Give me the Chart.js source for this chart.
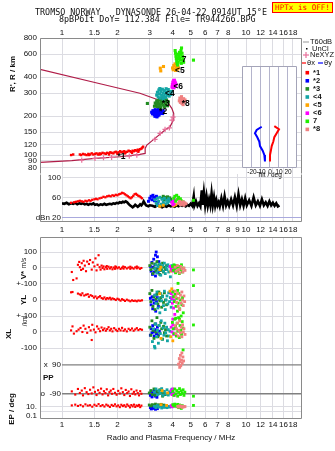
<!DOCTYPE html>
<html>
<head>
<meta charset="utf-8">
<script src="https://cdn.jsdelivr.net/npm/chart.js@4.4.0/dist/chart.umd.min.js"></script>
<style>
  html, body { margin: 0; padding: 0; background: #fff; }
  body { width: 335px; height: 451px; position: relative; overflow: hidden; }
  canvas { position: absolute; }
  #hptx { position: absolute; left: 272px; top: 2px; width: 59px; height: 9px; background: #ffff00;
          border: 1px solid #ff0000; color: #ff0000; font: 7.6px "DejaVu Sans Mono", monospace;
          line-height: 9px; text-align: center; white-space: nowrap; overflow: visible; }
</style>
</head>
<body>
<div id="hptx">HPTx is OFF!</div>
<canvas id="hgt" width="335" height="175" style="left:0;top:0"></canvas>
<canvas id="db" width="335" height="66" style="left:0;top:170px"></canvas>
<canvas id="tilt" width="80" height="126" style="left:230px;top:56px"></canvas>
<canvas id="low" width="335" height="215" style="left:0;top:236px"></canvas>
<script>
// ---- axes ----
const F_MIN = 0.759, F_MAX = 20.15;
const freqLabels = [1, 1.5, 2, 3, 4, 5, 6, 7, 8, 10, 12, 14, 16, 18];
const freqLabelsDb = [1, 1.5, 2, 3, 4, 5, 6, 7, 8, 9, 10, 12, 14, 16, 18];
const heightTicks = [80, 90, 100, 120, 150, 200, 300, 400, 600, 800];
const dbTicks = [100, 80, 60, 40, 20];
const dbTickLabels = ['100', 'dBe 80', '60', '40', 'dBn 20'];
const tiltTicks = [-20, -10, 0, 10, 20];
const lowTickLabels = ['100', '0', '+-100', '0', '+-100', '0', '-100', '10.', '', '0.1'];

// ---- echo classes ----
const clusterIds = ['1', '2', '3', '4', '5', '6', '7', '8'];
const clusterNames = ['*1', '*2', '*3', '<4', '<5', '<6', '7', '*8'];
const clusterColors = ['#ff0000', '#0000ff', '#228b22', '#14a5a5', '#ffa500', '#ff00ff', '#22ee00', '#f08080'];

// ---- profile (MHz, km) ----
const profile = [[0.759, 87.8], [1.13, 90.4], [1.51, 94.3], [2.07, 97], [2.65, 101.3], [2.83, 103], [2.83, 112.6],
  [2.89, 119.5], [3.20, 134.5], [3.63, 155.9], [3.86, 165.4], [4.03, 186], [4.06, 203], [4.03, 210], [3.95, 229],
  [3.77, 252], [3.35, 266], [2.65, 300], [1.61, 355], [0.759, 458]];
const neXYZ = [[1.28, 91.5], [1.51, 94.3], [1.68, 95.3], [1.86, 96], [2.32, 98.2], [2.55, 100], [3.20, 132],
  [3.41, 147], [3.63, 158], [3.83, 162], [3.96, 186], [4.01, 196]];
const clusterTags = [['*1', 2.00, 97], ['*2', 3.37, 216], ['*3', 3.48, 250], ['<4', 3.63, 300], ['<5', 4.11, 447],
  ['<6', 4.03, 337], ['7', 4.47, 541], ['*8', 4.47, 247]];

// tilt (deg, km)
const tiltX = [[4.8, 167], [10, 158], [7.4, 147], [4.8, 137], [3.7, 127], [1.9, 117], [1.1, 109], [0, 100], [0, 89]];
const tiltY = [[-9.2, 165], [-14.8, 156], [-16.7, 147], [-14.1, 137], [-11.9, 127], [-11.1, 117], [-8.1, 108], [-6.3, 100], [-5.6, 89]];

// virtual height R' (km)
const hgtEcho = {
  '1': [[1.12, 100], [1.15, 101], [1.25, 101], [1.27, 100], [1.30, 102], [1.33, 101], [1.36, 100], [1.39, 102], [1.42, 101],
    [1.45, 103], [1.48, 101], [1.51, 102], [1.54, 103], [1.57, 101], [1.60, 103], [1.63, 102], [1.66, 104], [1.70, 103],
    [1.73, 102], [1.76, 104], [1.80, 103], [1.83, 105], [1.86, 104], [1.90, 103], [1.93, 105], [1.96, 106], [2.00, 104],
    [2.03, 105], [2.07, 107], [2.10, 105], [2.14, 106], [2.18, 107], [2.22, 105], [2.26, 106], [2.30, 108], [2.34, 107],
    [2.38, 106], [2.42, 108], [2.46, 107], [2.50, 109], [2.54, 108], [2.58, 110], [2.62, 109], [2.66, 111], [2.70, 112],
    [2.73, 114], [2.76, 116], [1.40, 100], [1.60, 101], [1.80, 101], [2.00, 102], [2.20, 103], [2.40, 104], [2.60, 106]],
  '2': [[3.07, 214], [3.10, 208], [3.12, 220], [3.15, 212], [3.17, 205], [3.19, 217], [3.21, 224], [3.23, 210], [3.25, 202],
    [3.27, 215], [3.29, 221], [3.31, 207], [3.33, 213], [3.35, 226], [3.37, 204], [3.39, 218], [3.41, 210], [3.44, 222],
    [3.46, 212], [3.49, 216], [3.52, 209], [3.55, 219], [3.20, 199], [3.28, 197], [3.36, 229], [3.43, 227], [3.14, 216],
    [3.24, 219], [3.32, 201]],
  '3': [[2.91, 250], [3.18, 238], [3.21, 252], [3.24, 244], [3.27, 262], [3.30, 236], [3.33, 255], [3.36, 247], [3.39, 268],
    [3.42, 240], [3.45, 258], [3.48, 250], [3.51, 272], [3.54, 243], [3.57, 261], [3.60, 235], [3.63, 254], [3.66, 246],
    [3.70, 266], [3.74, 240], [3.78, 257], [3.30, 249], [3.44, 232], [3.58, 270], [3.68, 258]],
  '4': [[3.27, 290], [3.30, 305], [3.33, 280], [3.36, 318], [3.39, 296], [3.42, 275], [3.45, 310], [3.48, 288], [3.51, 322],
    [3.54, 300], [3.57, 283], [3.60, 314], [3.63, 295], [3.66, 278], [3.70, 306], [3.74, 290], [3.78, 320], [3.82, 285],
    [3.86, 302], [3.90, 293], [3.94, 310], [3.40, 326], [3.55, 271], [3.68, 325]],
  '5': [[3.99, 470], [4.02, 455], [4.05, 490], [4.08, 462], [4.11, 505], [4.14, 450], [4.17, 478], [4.20, 495], [4.23, 460],
    [4.26, 485], [4.29, 470], [3.42, 468], [3.44, 446], [3.56, 482]],
  '6': [[3.96, 335], [3.98, 350], [4.00, 365], [4.02, 342], [4.04, 375], [4.06, 330], [4.08, 355], [4.10, 368], [4.12, 340],
    [4.14, 360], [4.16, 348], [4.00, 332], [4.08, 378]],
  '7': [[4.12, 640], [4.14, 610], [4.16, 580], [4.18, 555], [4.20, 530], [4.22, 510], [4.25, 495], [4.28, 520], [4.30, 550],
    [4.33, 580], [4.36, 560], [4.40, 600], [4.43, 640], [4.46, 670], [4.49, 610], [4.52, 575], [4.55, 545], [4.58, 520],
    [4.25, 560], [4.30, 600], [4.35, 620], [4.22, 590], [4.40, 540], [4.45, 510], [5.18, 540]],
  '8': [[4.34, 262], [4.37, 275], [4.40, 255], [4.43, 268], [4.46, 282], [4.49, 250], [4.52, 264], [4.55, 245], [4.58, 272],
    [4.62, 258], [4.66, 266]]
};

// amplitude (dB)
const dbNoise = [[1.00, 48], [1.03, 47], [1.06, 49], [1.09, 46], [1.12, 48], [1.15, 47], [1.18, 49], [1.21, 46], [1.24, 48],
  [1.27, 47], [1.30, 48], [1.33, 46], [1.36, 47], [1.39, 45], [1.42, 47], [1.45, 46], [1.48, 48], [1.51, 45], [1.55, 46],
  [1.58, 44], [1.62, 46], [1.66, 45], [1.70, 47], [1.74, 45], [1.78, 46], [1.82, 47], [1.86, 46], [1.90, 48], [1.94, 47],
  [1.98, 49], [2.02, 48], [2.06, 50], [2.10, 49], [2.14, 51], [2.18, 50], [2.22, 52], [2.26, 50], [2.30, 47], [2.34, 44],
  [2.38, 42], [2.42, 40], [2.46, 42], [2.50, 45], [2.54, 43], [2.58, 41], [2.62, 43], [2.66, 46], [2.70, 44], [2.74, 47],
  [2.78, 52], [2.82, 48], [2.86, 44], [2.90, 43], [2.95, 42], [3.00, 44], [3.10, 43], [3.20, 41], [3.30, 44], [3.40, 42],
  [3.50, 40], [3.60, 43], [3.70, 41], [3.80, 44], [3.90, 42], [4.00, 43], [4.10, 41], [4.20, 44], [4.30, 42], [4.40, 45],
  [4.50, 43], [4.60, 44], [4.70, 42], [4.80, 45], [4.90, 43], [5.00, 47], [5.10, 43], [5.20, 62], [5.25, 44], [5.35, 52],
  [5.45, 43], [5.55, 48], [5.65, 42], [5.75, 74], [5.80, 45], [5.90, 70], [6.00, 44], [6.10, 62], [6.20, 43], [6.30, 56],
  [6.40, 44], [6.50, 68], [6.60, 45], [6.70, 60], [6.80, 43], [6.90, 54], [7.00, 44], [7.10, 50], [7.20, 42], [7.35, 58],
  [7.50, 43], [7.65, 62], [7.80, 44], [7.95, 52], [8.10, 43], [8.30, 56], [8.50, 44], [8.70, 60], [8.90, 43], [9.10, 66],
  [9.30, 44], [9.50, 56], [9.70, 43], [9.90, 58], [10.1, 44], [10.4, 54], [10.7, 43], [11.0, 60], [11.3, 44], [11.6, 52],
  [11.9, 43], [12.2, 56], [12.5, 44], [12.8, 50], [13.1, 43], [13.4, 52], [13.7, 44], [14.0, 49], [14.3, 43], [14.6, 48],
  [14.9, 42], [15.2, 44]];
const dbEcho = {
  '1': [[1.12, 49], [1.16, 50], [1.19, 51], [1.22, 52], [1.25, 53], [1.28, 52], [1.31, 51], [1.34, 53], [1.37, 52], [1.40, 54],
    [1.43, 53], [1.46, 55], [1.50, 56], [1.53, 57], [1.56, 56], [1.60, 58], [1.64, 59], [1.68, 61], [1.72, 60], [1.76, 62],
    [1.80, 63], [1.84, 62], [1.88, 64], [1.92, 63], [1.96, 65], [2.00, 64], [2.04, 66], [2.08, 67], [2.12, 69], [2.16, 68],
    [2.20, 66], [2.24, 64], [2.28, 62], [2.32, 60], [2.36, 58], [2.40, 60], [2.44, 63], [2.48, 66], [2.52, 67], [2.56, 65],
    [2.60, 63], [2.64, 62], [2.68, 60], [2.72, 58]],
  '2': [[2.95, 52], [3.00, 58], [3.05, 62], [3.08, 55], [3.12, 64], [3.15, 60], [3.18, 53], [3.22, 57], [3.26, 62], [3.30, 50]],
  '3': [[3.50, 58], [3.55, 62], [3.60, 55], [3.65, 60], [3.70, 57], [3.75, 61], [3.80, 54], [3.85, 59], [3.90, 56], [3.95, 52]],
  '4': [[3.20, 55], [3.25, 48], [3.30, 58], [3.35, 52], [3.40, 60], [3.45, 46], [3.50, 56], [3.55, 50], [3.60, 58], [3.65, 47],
    [3.70, 54], [3.75, 49], [3.80, 57], [3.85, 52], [3.30, 44], [3.50, 45]],
  '5': [[3.40, 42], [3.55, 44], [4.05, 43], [4.15, 45]],
  '6': [[3.95, 50], [4.00, 45], [4.03, 52], [4.06, 47], [4.10, 55]],
  '7': [[4.05, 58], [4.10, 62], [4.15, 52], [4.20, 64], [4.25, 56], [4.30, 60], [4.35, 50], [4.40, 57], [4.45, 53], [4.50, 48],
    [4.55, 51], [5.18, 54]],
  '8': [[4.30, 48], [4.35, 52], [4.40, 45], [4.45, 50], [4.50, 46], [4.55, 51], [4.60, 44], [4.65, 49], [4.72, 47]]
};

// V* (m/s)
const vEcho = {
  '1': [[1.13, -25], [1.15, -75], [1.20, -65], [1.22, 20], [1.24, 38], [1.25, 5], [1.27, -12], [1.28, 30], [1.30, -5], [1.31, 45],
    [1.33, 15], [1.35, -20], [1.37, 40], [1.40, 25], [1.42, 50], [1.45, -10], [1.47, 35], [1.50, 10], [1.52, 60], [1.54, -15],
    [1.56, 20], [1.58, 80], [1.60, 5], [1.62, -10], [1.64, 15], [1.66, 0], [1.68, 10], [1.70, -8], [1.73, 5], [1.76, -5],
    [1.79, 8], [1.82, -3], [1.85, 5], [1.88, -8], [1.91, 3], [1.94, -5], [1.97, 6], [2.00, -2], [2.04, 4], [2.08, -6],
    [2.12, 2], [2.16, -4], [2.20, 5], [2.25, -3], [2.30, 3], [2.35, -5], [2.40, 2], [2.45, -4], [2.50, 4], [2.55, -2],
    [2.60, 3], [2.65, -5], [2.70, 0], [1.75, 12], [1.95, 10], [2.15, 9], [2.35, 8], [2.55, 9]],
  '2': [[3.02, 10], [3.05, -20], [3.08, 35], [3.10, -40], [3.12, 5], [3.15, 55], [3.17, -25], [3.20, 20], [3.22, -50], [3.25, 100],
    [3.27, -5], [3.30, 70], [3.33, -30], [3.36, 40], [3.39, -15], [3.22, 80]],
  '3': [[3.00, 15], [3.04, -10], [3.08, 30], [3.12, -35], [3.16, 0], [3.20, 25], [3.24, -20], [3.28, 40], [3.32, -5], [3.36, 20],
    [3.40, -40], [3.44, 10], [3.48, -15], [3.52, 30], [3.56, -25], [3.60, 5], [3.65, -10], [3.70, 15]],
  '4': [[3.20, -5], [3.24, 20], [3.28, -30], [3.32, 10], [3.36, -15], [3.40, 25], [3.44, -45], [3.48, 0], [3.52, 15], [3.56, -20],
    [3.60, 30], [3.64, -35], [3.68, 5], [3.72, -10], [3.76, 20], [3.80, -25], [3.84, 10], [3.88, -55], [3.92, 0], [3.95, 15]],
  '5': [[3.40, -10], [3.45, 5], [3.90, -20]],
  '6': [[3.87, 10], [3.92, -5], [3.96, -15], [4.00, 5], [4.04, -20]],
  '7': [[3.98, 10], [4.02, -15], [4.06, 20], [4.10, -5], [4.14, -30], [4.18, 15], [4.22, 0], [4.26, -20], [4.30, 10], [4.34, -35],
    [4.38, 5], [4.42, -10], [4.46, 20], [4.50, -25], [4.54, 0], [4.27, -96], [5.18, -12]],
  '8': [[4.12, 5], [4.18, -20], [4.24, 15], [4.30, -10], [4.36, -30], [4.42, 10], [4.48, -5], [4.54, -25], [4.60, 0], [4.66, -15]]
};

// YL (km)
const ylEcho = {
  '1': [[1.12, 48], [1.14, 50], [1.22, 40], [1.25, 35], [1.27, 30], [1.29, 42], [1.32, 28], [1.35, 33], [1.38, 36], [1.40, 20],
    [1.43, 30], [1.46, 25], [1.49, 15], [1.52, 22], [1.55, 10], [1.58, 18], [1.61, 24], [1.64, 12], [1.67, 8], [1.70, 16],
    [1.73, 5], [1.76, 12], [1.79, 8], [1.82, 14], [1.85, 4], [1.88, 10], [1.92, 6], [1.96, 0], [2.00, 8], [2.04, 3],
    [2.08, -4], [2.12, 5], [2.16, 0], [2.20, -6], [2.25, 2], [2.30, -3], [2.35, -8], [2.40, -2], [2.45, -6], [2.50, -4],
    [2.55, -8], [2.60, -3], [2.66, -5], [2.72, -2]],
  '2': [[3.02, 10], [3.05, -30], [3.08, 20], [3.11, -55], [3.14, 0], [3.17, -20], [3.20, 30], [3.23, -70], [3.26, -10],
    [3.30, 15], [3.34, -40], [3.38, 5]],
  '3': [[3.00, 40], [3.04, -10], [3.08, 60], [3.12, -40], [3.16, 20], [3.20, -60], [3.24, 5], [3.28, 35], [3.32, -25], [3.36, 50],
    [3.40, -5], [3.44, 15], [3.48, -45], [3.52, 25], [3.56, -15], [3.60, 45], [3.65, 0], [3.70, -30]],
  '4': [[3.20, 30], [3.24, -20], [3.28, 50], [3.32, -50], [3.36, 10], [3.40, -80], [3.44, 40], [3.48, -5], [3.52, 20], [3.56, -35],
    [3.60, 55], [3.64, -60], [3.68, 0], [3.72, 25], [3.76, -25], [3.80, 45], [3.84, -10], [3.88, 15], [3.92, -45], [3.95, 5]],
  '5': [[3.40, 40], [3.86, 55], [3.95, 70]],
  '6': [[3.92, 40], [3.95, 10], [3.98, -20], [4.01, 25], [4.04, -50], [4.07, 0], [4.10, -90], [4.00, -120], [4.05, 55]],
  '7': [[4.00, 50], [4.04, 20], [4.08, -10], [4.12, 35], [4.16, -40], [4.20, 10], [4.24, -70], [4.28, -20], [4.32, 40], [4.36, -55],
    [4.40, 0], [4.44, -100], [4.48, -30], [4.52, 15], [4.56, -80], [4.15, -115], [4.35, -120], [4.25, 60], [5.18, 90]],
  '8': [[4.12, 55], [4.16, 20], [4.20, -15], [4.24, 40], [4.28, -40], [4.32, 10], [4.36, -60], [4.40, 30], [4.44, -20], [4.48, 50],
    [4.52, 0], [4.56, -35], [4.60, 25], [4.64, -10]]
};

// XL (km)
const xlEcho = {
  '1': [[1.12, 10], [1.14, 35], [1.16, -10], [1.20, 5], [1.23, 15], [1.26, 25], [1.29, 0], [1.31, 40], [1.34, 20], [1.37, -5],
    [1.40, 30], [1.43, 10], [1.46, 45], [1.49, 15], [1.52, -2], [1.55, 35], [1.58, 20], [1.61, 5], [1.64, 28], [1.67, 12],
    [1.70, 22], [1.73, 8], [1.76, 18], [1.79, 30], [1.82, 10], [1.85, 20], [1.88, 4], [1.92, 24], [1.96, 14], [2.00, 6],
    [2.04, 20], [2.08, 10], [2.12, 26], [2.16, 8], [2.20, 16], [2.25, 4], [2.30, 20], [2.35, 12], [2.40, 22], [2.45, 8],
    [2.50, 16], [2.55, 24], [2.60, 12], [2.66, 18], [2.72, 14], [1.45, -50]],
  '2': [[3.02, -20], [3.05, 20], [3.08, -5], [3.11, 40], [3.14, 0], [3.17, -25], [3.20, 15], [3.23, 50], [3.26, -10], [3.30, 30],
    [3.34, -20], [3.38, 5]],
  '3': [[3.00, 30], [3.04, -20], [3.08, 70], [3.12, 10], [3.16, -40], [3.20, 50], [3.24, 0], [3.28, 90], [3.32, -30], [3.36, 40],
    [3.40, -10], [3.44, 60], [3.48, 20], [3.52, -45], [3.56, 35], [3.60, -5], [3.65, 15], [3.70, -25]],
  '4': [[3.10, -60], [3.14, 20], [3.18, -90], [3.22, 50], [3.26, -30], [3.30, 10], [3.34, -70], [3.38, 40], [3.42, -10], [3.46, 70],
    [3.50, -45], [3.54, 25], [3.58, -20], [3.62, 55], [3.66, -5], [3.70, 30], [3.74, -55], [3.78, 15], [3.82, -25], [3.86, 5],
    [3.20, -100]],
  '5': [[3.90, -30], [4.00, -55], [3.45, -40]],
  '6': [[3.92, 30], [3.96, 0], [4.00, 45], [4.04, -15], [4.08, 20]],
  '7': [[3.98, 60], [4.02, 20], [4.06, -10], [4.10, 80], [4.14, 35], [4.18, -25], [4.22, 55], [4.26, 5], [4.30, 90], [4.34, -35],
    [4.38, 40], [4.42, 10], [4.46, -15], [4.50, 65], [4.54, 25], [4.55, -112], [5.18, 44]],
  '8': [[4.12, 40], [4.16, -10], [4.20, 20], [4.24, 55], [4.28, -25], [4.32, 10], [4.36, 70], [4.40, -5], [4.44, 30], [4.48, -30],
    [4.52, 45], [4.56, 0], [4.60, 20], [4.66, -15]]
};

// PP (deg)
const ppEcho = {
  '1': [[1.13, -75], [1.18, -95], [1.22, -60], [1.25, -85], [1.28, -70], [1.30, -100], [1.33, -55], [1.36, -80], [1.39, -92],
    [1.42, -65], [1.45, -88], [1.48, -50], [1.51, -78], [1.54, -98], [1.57, -68], [1.60, -84], [1.63, -58], [1.66, -94],
    [1.69, -74], [1.72, -86], [1.75, -62], [1.78, -100], [1.81, -80], [1.84, -70], [1.87, -90], [1.90, -60], [1.94, -84],
    [1.98, -96], [2.02, -72], [2.06, -88], [2.10, -56], [2.14, -80], [2.18, -98], [2.22, -66], [2.26, -86], [2.30, -76],
    [2.34, -104], [2.38, -62], [2.42, -90], [2.46, -78], [2.50, -94], [2.54, -70], [2.58, -86], [2.62, -100], [2.66, -74],
    [2.70, -90]],
  '2': [[3.02, -100], [3.05, -75], [3.08, -110], [3.11, -85], [3.14, -95], [3.17, -70], [3.20, -105], [3.24, -80], [3.28, -112],
    [3.32, -90]],
  '3': [[2.98, -85], [3.04, -70], [3.10, -95], [3.16, -60], [3.22, -100], [3.28, -75], [3.34, -90], [3.40, -65], [3.46, -85],
    [3.52, -105], [3.58, -80], [3.64, -95]],
  '4': [[3.18, -80], [3.24, -60], [3.30, -95], [3.36, -70], [3.42, -88], [3.48, -58], [3.54, -100], [3.60, -75], [3.66, -90],
    [3.72, -65], [3.78, -98], [3.84, -78], [3.90, -85], [3.95, -62]],
  '5': [[3.50, -70], [3.75, -85]],
  '6': [[3.92, -70], [3.96, -95], [4.00, -60], [4.04, -85], [4.08, -100]],
  '7': [[4.00, -75], [4.05, -100], [4.10, -60], [4.15, -90], [4.20, -70], [4.25, -105], [4.30, -80], [4.35, -58], [4.40, -95],
    [4.45, -72], [4.50, -88], [4.55, -65], [4.60, -100], [4.65, -80], [5.18, -105]],
  '8': [[4.30, 95], [4.34, 130], [4.38, 110], [4.40, 150], [4.42, 85], [4.46, 120], [4.50, 100], [4.54, 140], [4.58, 115],
    [4.36, 75], [4.48, 165]]
};

// EP (deg)
const epEcho = {
  '1': [[1.13, 20], [1.18, 30], [1.22, 15], [1.26, 25], [1.30, 12], [1.34, 35], [1.38, 18], [1.42, 22], [1.46, 10], [1.50, 28],
    [1.54, 16], [1.58, 40], [1.62, 14], [1.66, 24], [1.70, 11], [1.74, 30], [1.78, 18], [1.82, 9], [1.86, 26], [1.90, 15],
    [1.94, 35], [1.98, 12], [2.02, 20], [2.06, 8], [2.10, 28], [2.14, 14], [2.18, 22], [2.22, 10], [2.26, 32], [2.30, 16],
    [2.34, 7], [2.38, 24], [2.42, 12], [2.46, 30], [2.50, 9], [2.54, 20], [2.58, 14], [2.62, 26], [2.66, 8], [2.70, 18]],
  '2': [[3.02, 6], [3.06, 3], [3.10, 10], [3.14, 4], [3.18, 8], [3.22, 2.5], [3.26, 5], [3.30, 3.5]],
  '3': [[2.98, 25], [3.04, 15], [3.10, 30], [3.16, 20], [3.22, 40], [3.28, 12], [3.34, 28], [3.40, 18], [3.46, 35], [3.52, 14],
    [3.58, 24], [3.64, 10]],
  '4': [[3.18, 12], [3.24, 6], [3.30, 18], [3.36, 8], [3.42, 14], [3.48, 5], [3.54, 10], [3.60, 7], [3.66, 16], [3.72, 6],
    [3.78, 12], [3.84, 8], [3.90, 11]],
  '5': [[3.45, 30], [3.70, 20]],
  '6': [[3.92, 18], [3.96, 9], [4.00, 24], [4.04, 12]],
  '7': [[4.00, 30], [4.05, 15], [4.10, 40], [4.15, 20], [4.20, 10], [4.25, 35], [4.30, 6], [4.35, 25], [4.40, 12], [4.45, 4],
    [4.50, 18], [5.18, 20]],
  '8': [[4.25, 12], [4.30, 8], [4.35, 16], [4.40, 10], [4.45, 14], [4.50, 7], [4.55, 12], [4.60, 9], [4.66, 11]]
};

// ---- stacked rows of the lower panel on one value axis ----
const rowV = v => v;
const rowYL = v => -200 + v;
const rowXL = v => -400 + v;
const rowPP = v => -696 + v;
const rowEP = v => -866.9 + 26.9 * (Math.log10(v) - 1);
const lowTicks = [100, 0, -100, -200, -300, -400, -500, rowEP(10), rowEP(1), rowEP(0.1)];

const GRID = '#dcdce2', FRAME = '#8a8a8a', INK = '#111';
const TICK_FONT = { family: 'Liberation Sans', size: 8 };

const pts = arr => arr.map(([x, y]) => ({ x, y }));

function echoSets(panel, map, r) {
  return clusterIds.map((id, i) => ({
    label: clusterNames[i],
    data: (panel[id] || []).map(([f, v]) => ({ x: f, y: map(v) })),
    backgroundColor: clusterColors[i], borderColor: clusterColors[i],
    pointStyle: 'rect', pointRadius: id === '1' ? r : r + 0.5, borderWidth: 0, showLine: false
  }));
}

function withOrder(sets) {
  sets.forEach((d, i) => { d.order = sets.length - i; });
  return sets;
}

// keep chart areas exactly where the panels sit
const noPad = s => { s.paddingTop = 0; s.paddingBottom = 0; s.paddingLeft = 0; s.paddingRight = 0; };

function freqAxis(pos, min, labels, pad, size) {
  return {
    type: 'logarithmic', position: pos, min, max: F_MAX,
    afterBuildTicks: s => { s.ticks = labels.map(v => ({ value: v })); },
    afterFit: s => { s.height = size; noPad(s); },
    ticks: { autoSkip: false, maxRotation: 0, minRotation: 0, padding: pad, color: INK, font: TICK_FONT, callback: v => String(v) },
    grid: { color: GRID, drawTicks: false },
    border: { display: false }
  };
}

// text at pixel or data positions
const textPlugin = {
  id: 'texts',
  afterDraw(chart, args, opts) {
    const ctx = chart.ctx;
    for (const t of opts.items || []) {
      let x = t.x, y = t.y;
      if (t.fx !== undefined) x = chart.scales.x.getPixelForValue(t.fx);
      if (t.fy !== undefined) y = chart.scales.y.getPixelForValue(t.fy);
      ctx.save();
      ctx.font = t.font || '8px "Liberation Sans"';
      ctx.fillStyle = t.color || INK;
      ctx.textAlign = t.align || 'left';
      ctx.textBaseline = 'middle';
      ctx.translate(x, y);
      if (t.rot) ctx.rotate(t.rot);
      ctx.fillText(t.text, 0, 0);
      ctx.restore();
    }
  }
};

const framePlugin = {
  id: 'frame',
  beforeDraw(chart, args, opts) {
    if (!opts.fill) return;
    const a = chart.chartArea;
    chart.ctx.save();
    chart.ctx.fillStyle = opts.fill;
    chart.ctx.fillRect(a.left, a.top, a.right - a.left, a.bottom - a.top);
    chart.ctx.restore();
  },
  afterDraw(chart, args, opts) {
    const ctx = chart.ctx, a = chart.chartArea;
    const l = Math.round(opts.left !== undefined ? opts.left : a.left) + 0.5;
    const r = Math.round(a.right) - 0.5, t = Math.round(a.top) + 0.5, b = Math.round(a.bottom) - 0.5;
    ctx.save();
    ctx.strokeStyle = opts.color || FRAME;
    ctx.lineWidth = 1;
    ctx.beginPath();
    const s = opts.sides || [];
    if (s.includes('top')) { ctx.moveTo(l, t); ctx.lineTo(r, t); }
    if (s.includes('bottom')) { ctx.moveTo(l, b); ctx.lineTo(r, b); }
    if (s.includes('left')) { ctx.moveTo(l, t); ctx.lineTo(l, b); }
    if (s.includes('right')) { ctx.moveTo(r, t); ctx.lineTo(r, b); }
    ctx.stroke();
    ctx.restore();
  }
};

const sideLegend = {
  id: 'sideLegend',
  afterDraw(chart) {
    const ctx = chart.ctx;
    ctx.save();
    ctx.font = '7.5px "Liberation Sans"';
    ctx.textBaseline = 'middle';
    const line = (x0, x1, y, c) => { ctx.strokeStyle = c; ctx.lineWidth = 1.2; ctx.beginPath(); ctx.moveTo(x0, y); ctx.lineTo(x1, y); ctx.stroke(); };
    const text = (s, x, y) => { ctx.fillStyle = INK; ctx.fillText(s, x, y); };
    line(303, 309, 42, '#a8a8a8'); text('T60dB', 310, 42);
    ctx.fillStyle = '#000'; ctx.fillRect(306, 48, 1.5, 1.5); text('UnCl', 312, 48.5);
    line(303, 309, 55, '#e8709a'); ctx.beginPath(); ctx.moveTo(306, 52); ctx.lineTo(306, 58); ctx.stroke(); text('NeXYZ', 310, 55);
    line(302, 306, 63, '#ff0000'); text('θx', 307, 63);
    line(318, 323, 63, '#0000ff'); text('θy', 324, 63);
    ctx.font = 'bold 7.5px "Liberation Sans"';
    clusterNames.forEach((n, i) => {
      const y = 72.7 + i * 8.1;
      ctx.fillStyle = clusterColors[i];
      ctx.fillRect(305.5, y - 1.8, 3.6, 3.6);
      text(n, 313, y);
    });
    ctx.restore();
  }
};

const common = {
  responsive: false, animation: false, events: [],
  plugins: { legend: { display: false }, tooltip: { enabled: false } }
};

// ---- height panel ----
new Chart(document.getElementById('hgt'), {
  type: 'scatter',
  data: {
    datasets: withOrder([
      { label: 'R', data: pts(profile), showLine: true, borderColor: '#b01c48', borderWidth: 1.2, pointRadius: 0 },
      { label: 'NeXYZ', data: pts(neXYZ), pointStyle: 'cross', pointRadius: 2.6, borderColor: '#e8709a', borderWidth: 1.2 },
      ...echoSets(hgtEcho, v => v, 1.7)
    ])
  },
  options: {
    ...common,
    layout: { autoPadding: false, padding: { left: 0, right: 33, top: 0, bottom: 1 } },
    scales: {
      x: freqAxis('top', F_MIN, freqLabels, 0, 38),
      y: {
        type: 'logarithmic', min: 71.4, max: 800,
        afterBuildTicks: s => { s.ticks = heightTicks.map(v => ({ value: v })); },
        afterFit: s => { s.width = 40; noPad(s); },
        ticks: { padding: 3, color: INK, font: TICK_FONT, callback: v => String(v) },
        grid: { color: GRID, drawTicks: false },
        border: { display: false }
      }
    },
    plugins: {
      ...common.plugins,
      frame: { sides: ['top', 'left', 'right'] },
      texts: {
        items: [
          { x: 35, y: 12.5, text: 'TROMSO NORWAY   DYNASONDE 26-04-22 0914UT 15°E', font: '8.4px "DejaVu Sans Mono"' },
          { x: 59, y: 19.8, text: '8pBP6It DoY= 112.384 File= TR944266.BPG', font: '8.4px "DejaVu Sans Mono"' },
          { x: 13, y: 74, text: "R', R / km", rot: -Math.PI / 2, align: 'center', font: 'bold 8px "Liberation Sans"' },
          ...clusterTags.map(([t, f, h]) => ({ fx: f, fy: h, text: t, font: 'bold 8.5px "Liberation Sans"', color: '#000' }))
        ]
      }
    }
  },
  plugins: [framePlugin, textPlugin, sideLegend]
});

// ---- amplitude panel ----
new Chart(document.getElementById('db'), {
  type: 'scatter',
  data: {
    datasets: withOrder([
      { label: 'noise', data: pts(dbNoise), showLine: true, borderColor: '#000', borderWidth: 2.6, pointRadius: 0 },
      ...echoSets(dbEcho, v => v, 1.6)
    ])
  },
  options: {
    ...common,
    layout: { autoPadding: false, padding: { left: 0, right: 33, top: 4, bottom: 0 } },
    scales: {
      x: freqAxis('bottom', 1, freqLabelsDb, 3, 14),
      y: {
        type: 'linear', min: 10.6, max: 106.6,
        afterBuildTicks: s => { s.ticks = dbTicks.map(v => ({ value: v })); },
        afterFit: s => { s.width = 62; noPad(s); },
        ticks: { padding: 1, color: INK, font: TICK_FONT, callback: (v, i) => dbTickLabels[i] },
        grid: { color: c => (c.tick && c.tick.value === 20) ? '#a9a9dd' : GRID, drawTicks: false },
        border: { display: false }
      }
    },
    plugins: { ...common.plugins, frame: { left: 40, sides: ['left', 'right', 'bottom'] } }
  },
  plugins: [framePlugin]
});

// ---- tilt inset ----
new Chart(document.getElementById('tilt'), {
  type: 'scatter',
  data: {
    datasets: [
      { label: 'θx', data: pts(tiltX), showLine: true, borderColor: '#ff0000', borderWidth: 2, pointRadius: 0 },
      { label: 'θy', data: pts(tiltY), showLine: true, borderColor: '#0000ff', borderWidth: 2, pointRadius: 0 }
    ]
  },
  options: {
    ...common,
    layout: { autoPadding: false, padding: { left: 12, right: 13, top: 10, bottom: 0 } },
    scales: {
      x: {
        type: 'linear', min: -31.1, max: 30,
        afterBuildTicks: s => { s.ticks = tiltTicks.map(v => ({ value: v })); },
        afterFit: s => { s.height = 14; noPad(s); },
        ticks: { autoSkip: false, maxRotation: 0, minRotation: 0, padding: 0, color: INK,
                 font: { family: 'Liberation Sans', size: 6.5 }, callback: v => String(v) },
        grid: { color: '#b4b4cc', drawTicks: false },
        border: { display: false }
      },
      y: { type: 'logarithmic', min: 79.3, max: 486, display: false }
    },
    plugins: {
      ...common.plugins,
      frame: { sides: ['top', 'left', 'right', 'bottom'], color: '#a4a4b8', fill: '#fff' },
      texts: { items: [{ x: 39.5, y: 119.5, text: 'Tilt / deg', align: 'center', font: '6.5px "Liberation Sans"' }] }
    }
  },
  plugins: [framePlugin, textPlugin]
});

// ---- V*, YL, XL, PP, EP panel ----
new Chart(document.getElementById('low'), {
  type: 'scatter',
  data: {
    datasets: withOrder([
      { label: 'x', data: [{ x: 1, y: rowPP(90) }, { x: F_MAX, y: rowPP(90) }], showLine: true, borderColor: '#808080', borderWidth: 1.3, pointRadius: 0 },
      { label: 'o', data: [{ x: 1, y: rowPP(-90) }, { x: F_MAX, y: rowPP(-90) }], showLine: true, borderColor: '#808080', borderWidth: 1.3, pointRadius: 0 },
      ...echoSets(vEcho, rowV, 1.5),
      ...echoSets(ylEcho, rowYL, 1.5),
      ...echoSets(xlEcho, rowXL, 1.5),
      ...echoSets(ppEcho, rowPP, 1.5),
      ...echoSets(epEcho, rowEP, 1.5)
    ])
  },
  options: {
    ...common,
    layout: { autoPadding: false, padding: { left: 0, right: 33, top: 1, bottom: 0 } },
    scales: {
      x: freqAxis('bottom', F_MIN, freqLabels, 1, 32),
      y: {
        type: 'linear', min: -943.75, max: 193.75,
        afterBuildTicks: s => { s.ticks = lowTicks.map(v => ({ value: v })); },
        afterFit: s => { s.width = 40; noPad(s); },
        ticks: { padding: 3, color: INK, font: TICK_FONT, callback: (v, i) => lowTickLabels[i] },
        grid: { color: c => c.index === 9 ? 'rgba(0,0,0,0)' : GRID, drawTicks: false },
        border: { display: false }
      }
    },
    plugins: {
      ...common.plugins,
      frame: { sides: ['top', 'left', 'right', 'bottom'] },
      texts: {
        items: [
          { x: 24, y: 27, text: 'm/s', rot: -Math.PI / 2, align: 'center', font: '6.5px "Liberation Sans"' },
          { x: 24, y: 39, text: 'V*', rot: -Math.PI / 2, align: 'center', font: 'bold 8px "Liberation Sans"' },
          { x: 24, y: 64, text: 'YL', rot: -Math.PI / 2, align: 'center', font: 'bold 8px "Liberation Sans"' },
          { x: 25, y: 85, text: '/km', rot: -Math.PI / 2, align: 'center', font: '6.5px "Liberation Sans"' },
          { x: 9, y: 98, text: 'XL', rot: -Math.PI / 2, align: 'center', font: 'bold 8px "Liberation Sans"' },
          { x: 43, y: 142, text: 'PP', font: 'bold 8px "Liberation Sans"' },
          { x: 61, fy: rowPP(90), text: 'x  90', align: 'right', font: '8px "Liberation Sans"' },
          { x: 61, fy: rowPP(-90), text: 'o  -90', align: 'right', font: '8px "Liberation Sans"' },
          { x: 12, y: 173, text: 'EP / deg', rot: -Math.PI / 2, align: 'center', font: 'bold 8px "Liberation Sans"' },
          { x: 171, y: 202, text: 'Radio and Plasma Frequency / MHz', align: 'center', font: '8px "Liberation Sans"' }
        ]
      }
    }
  },
  plugins: [framePlugin, textPlugin]
});
</script>
</body>
</html>
